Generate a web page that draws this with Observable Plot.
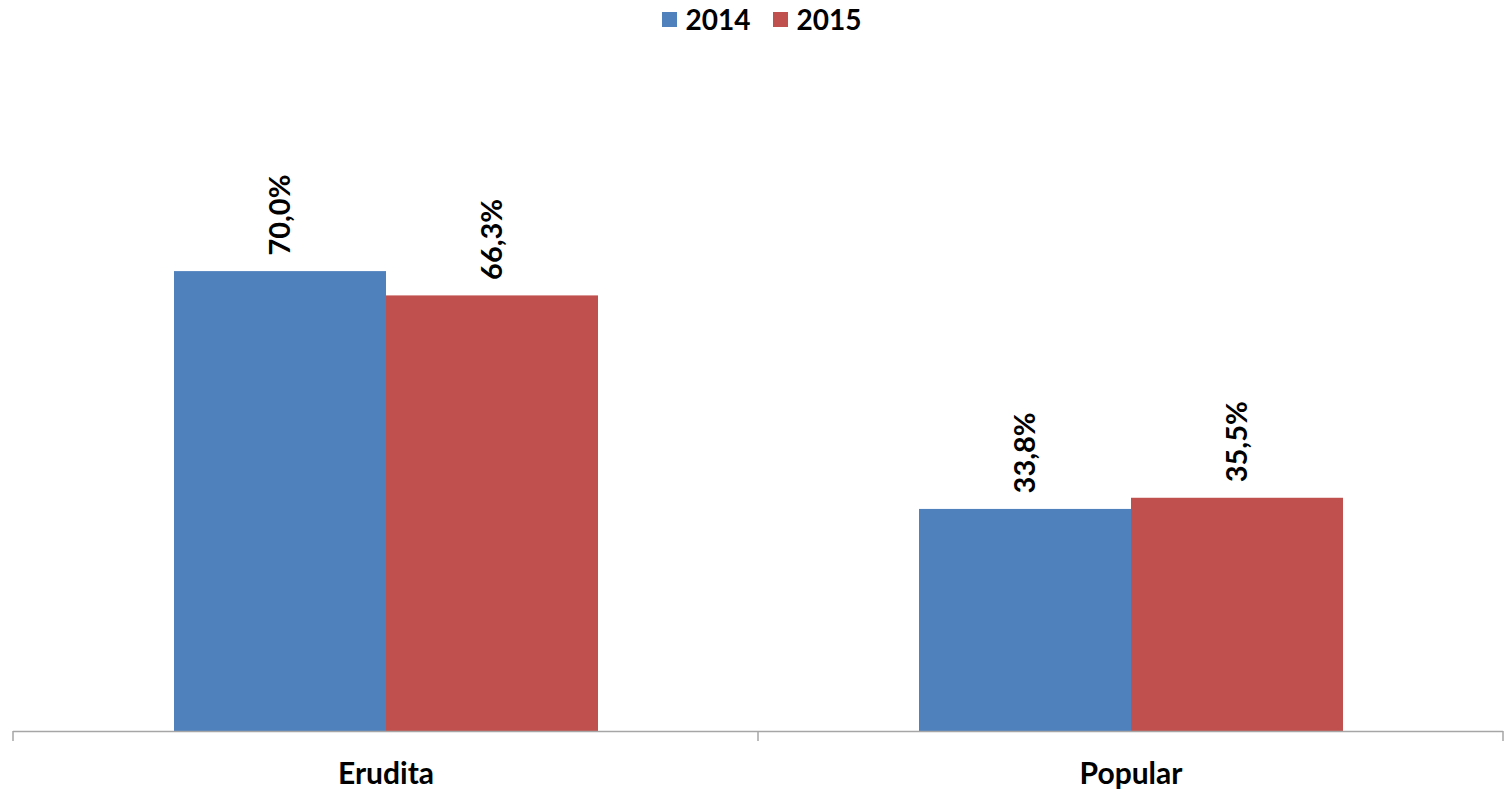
<!DOCTYPE html>
<html>
<head>
<meta charset="utf-8">
<script src="https://cdn.jsdelivr.net/npm/d3@7"></script>
<script src="https://cdn.jsdelivr.net/npm/@observablehq/plot@0.6"></script>
<style>
  html, body { margin: 0; padding: 0; background: #fff; }
  body { width: 1509px; height: 789px; overflow: hidden; font-family: Lato, "Open Sans", sans-serif; }
  #legend { height: 38px; display: flex; justify-content: center; align-items: center; font-weight: bold; font-size: 28px; color: #000; padding-left: 14px; box-sizing: border-box; }
  #legend .item { display: flex; align-items: center; margin: 0 11px; }
  #legend .sw { width: 15px; height: 15px; margin-right: 9px; }
</style>
</head>
<body>
<div id="legend"></div>
<div id="chart"></div>
<script>
const categories = ["Erudita", "Popular"];
const years = ["2014", "2015"];
const values2014 = [70.0, 33.8];
const values2015 = [66.3, 35.5];
const colors = ["#4f81bd", "#c0504d"];

const data = [];
categories.forEach((c, i) => {
  data.push({category: c, year: years[0], value: values2014[i]});
  data.push({category: c, year: years[1], value: values2015[i]});
});

const fmt = v => v.toFixed(1).replace(".", ",") + "%";

const legend = document.getElementById("legend");
years.forEach((y, i) => {
  const item = document.createElement("div");
  item.className = "item";
  item.innerHTML = `<span class="sw" style="background:${colors[i]}"></span><span>${y}</span>`;
  legend.appendChild(item);
});

const plot = Plot.plot({
  width: 1509,
  height: 751,
  marginTop: 36,
  marginBottom: 58,
  marginLeft: 12,
  marginRight: 6,
  style: {fontFamily: "Lato, 'Open Sans', sans-serif", background: "#fff"},
  fx: {domain: categories, padding: 0, label: null},
  x: {domain: years, paddingInner: 0, paddingOuter: 0.75, axis: null},
  y: {domain: [0, 100], axis: null},
  color: {domain: years, range: colors},
  marks: [
    Plot.barY(data, {fx: "category", x: "year", y: "value", fill: "year", inset: 0}),
    Plot.ruleY([0], {stroke: "#a6a6a6", strokeWidth: 1.5}),
    Plot.text(data, {fx: "category", x: "year", y: "value", text: d => fmt(d.value), rotate: -90, textAnchor: "start", dy: -16, fontSize: 29, fontWeight: "bold", fill: "#000"}),
    Plot.axisFx({tickSize: 0, tickPadding: 31, fontSize: 30, fontWeight: "bold", label: null, anchor: "bottom", color: "#000"})
  ]
});

// separator ticks at the category boundaries, from the fx scale
const fx = plot.scale("fx");
const y = plot.scale("y");
const y0 = y.apply(0);
const bounds = fx.domain.map(d => fx.apply(d));
bounds.push(fx.apply(fx.domain[fx.domain.length - 1]) + fx.bandwidth);
d3.select(plot).append("g")
  .attr("stroke", "#a6a6a6").attr("stroke-width", 1.5)
  .selectAll("line").data(bounds).join("line")
  .attr("x1", d => d).attr("x2", d => d)
  .attr("y1", y0).attr("y2", y0 + 10);

document.getElementById("chart").appendChild(plot);
</script>
</body>
</html>
